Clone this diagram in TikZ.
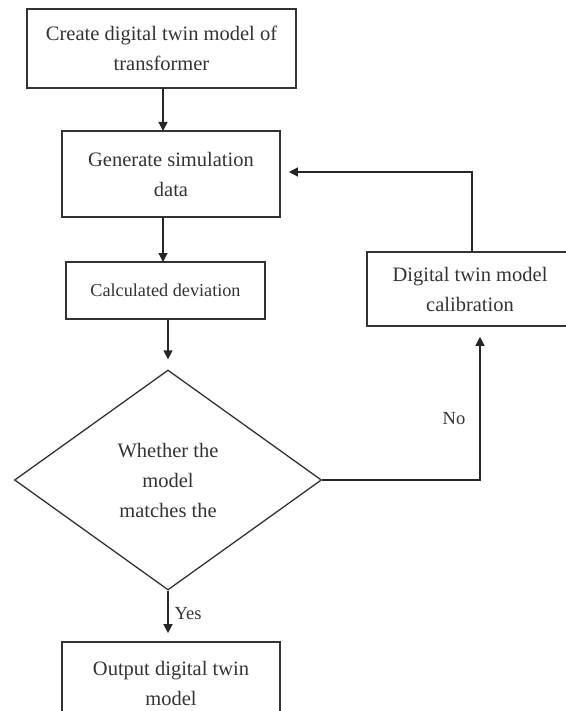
\documentclass[tikz,border=0pt]{standalone}
\usepackage{fontspec}
\setmainfont{Liberation Serif}
\usetikzlibrary{shapes.geometric,arrows.meta}

\begin{document}
\begin{tikzpicture}
[x=1pt,y=-1pt,
  boxdecorate/.style={shape=rectangle,draw=black!80,line width=1.6pt,
    text=black!80,inner sep=0pt,align=center,
    font=\fontsize{20.5}{30}\selectfont},%
  decidedecorate/.style={shape=diamond,draw=black!80,line width=1.3pt,
    text=black!80,inner sep=0pt,align=center,aspect=1.4,
    minimum width=307pt,minimum height=220pt,
    font=\fontsize{20.5}{30}\selectfont},%
  linedecorate/.style={draw=black!85,line width=1.3pt,
    -{Triangle[length=9pt,width=9pt]}},%
  labeldecorate/.style={text=black!80,inner sep=0pt,
    font=\fontsize{18.5}{22}\selectfont}]
\useasboundingbox (0,0) rectangle (565,711);
%% boxes
\foreach \nodename/\x/\y/\w/\h/\txt in {
  create/161.5/48.5/269/79/{Create digital twin model of\\transformer},
  generate/171/174/218/86/{Generate simulation\\data},
  calib/470/289/206/74/{Digital twin model\\calibration},
  output/171/683/218/82/{Output digital twin\\model}}
{
  \node (\nodename) at (\x,\y) [boxdecorate,minimum width=\w pt,minimum height=\h pt] {\txt};
}
\node (deviation) at (165.5,290.5) [boxdecorate,minimum width=199pt,minimum height=57pt,
  font=\fontsize{18.2}{22}\selectfont] {Calculated deviation};
%% decision
\node (decide) at (168,480) [decidedecorate] {Whether the\\model\\matches the};
%% turning points
\coordinate (noturn) at (480,480);
\coordinate (back) at (472,172);
%% edges
\draw[linedecorate] (163,88) -- (163,131);
\draw[linedecorate] (163,217) -- (163,262);
\draw[linedecorate,shorten >=10pt] (deviation.south -| decide.north) -- (decide.north);
\draw[linedecorate,shorten >=8pt] (decide.south) -- (decide.south |- output.north)
  node[labeldecorate,pos=0.45,anchor=west,xshift=6pt] {Yes};
\draw[linedecorate,shorten >=10pt] (decide.east) -- (noturn) -- (noturn |- calib.south)
  node[labeldecorate,pos=0.40,anchor=east,xshift=-14pt] {No};
\draw[linedecorate,shorten >=8pt] (back |- calib.north) -- (back) -- (back -| generate.east);
\end{tikzpicture}
\end{document}
